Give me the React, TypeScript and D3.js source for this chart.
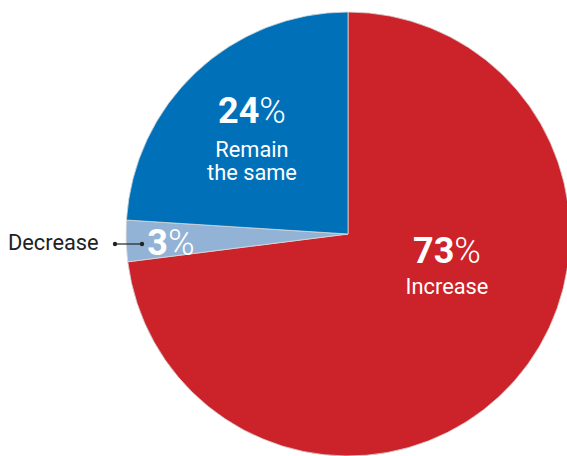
import React from "react";
import * as d3 from "d3";

const categories = ["Increase", "Decrease", "Remain the same"];
const values = [73, 3, 24];
const colors = ["#CC2229", "#93B3D6", "#0070B8"];

const W = 567;
const H = 456;
const cx = 348;
const cy = 234;
const R = 222;

export default function App() {
  const pie = d3.pie<number>().sort(null).value((d) => d);
  const arcs = pie(values);
  const arc = d3.arc<d3.PieArcDatum<number>>().innerRadius(0).outerRadius(R);
  const font = "Roboto, 'Noto Sans', Arial, sans-serif";
  const fs = 21.8;

  const pct = (v: number, x: number, y: number) => (
    <text x={x} y={y} textAnchor="middle" fill="#fff" fontFamily={font}>
      <tspan fontWeight={700} fontSize={36}>{v}</tspan>
      <tspan fontWeight={300} fontSize={36}>%</tspan>
    </text>
  );

  return (
    <svg
      width={W}
      height={H}
      style={{ position: "absolute", left: 0, top: 0, background: "#fff" }}
    >
      <g transform={`translate(${cx},${cy})`}>
        {arcs.map((a, i) => (
          <path key={categories[i]} d={arc(a) || ""} fill={colors[i]} stroke="#d9d9d9" strokeWidth={0.8} />
        ))}
      </g>
      {/* Increase */}
      {pct(values[0], 447, 263)}
      <text x={447} y={294} textAnchor="middle" fill="#fff" fontFamily={font} fontSize={fs}>
        {categories[0]}
      </text>
      {/* Remain the same */}
      {pct(values[2], 252, 123)}
      <text x={252} y={157} textAnchor="middle" fill="#fff" fontFamily={font} fontSize={fs}>
        Remain
      </text>
      <text x={252} y={180} textAnchor="middle" fill="#fff" fontFamily={font} fontSize={fs}>
        the same
      </text>
      {/* Decrease */}
      {pct(values[1], 171, 255)}
      <text x={8} y={250} textAnchor="start" fill="#222" fontFamily={font} fontSize={fs}>
        {categories[1]}
      </text>
      <line x1={115} y1={244} x2={142} y2={244} stroke="#222" strokeWidth={1.2} />
      <circle cx={115} cy={244} r={2.2} fill="#222" />
      <circle cx={142} cy={244} r={2.2} fill="#222" />
    </svg>
  );
}
